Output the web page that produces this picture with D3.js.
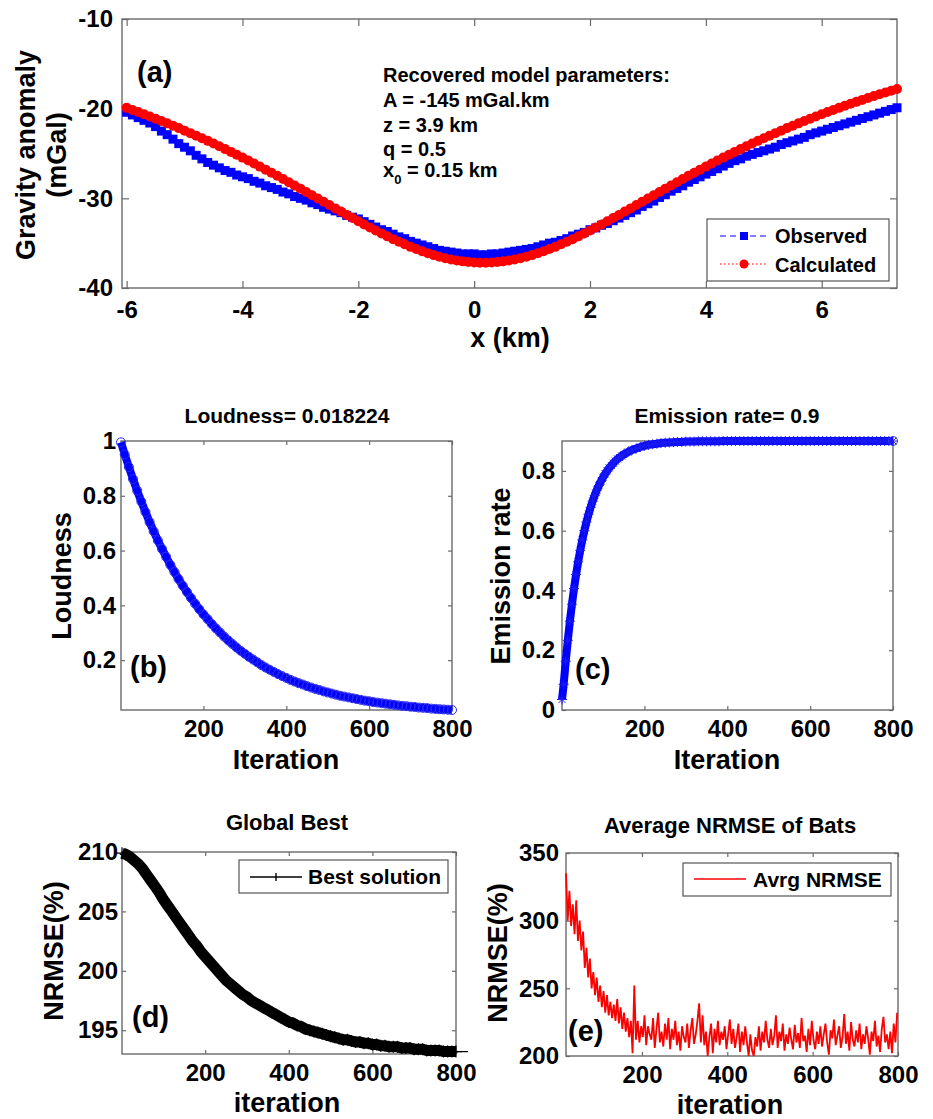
<!DOCTYPE html>
<html>
<head>
<meta charset="utf-8">
<script src="https://cdn.jsdelivr.net/npm/d3@7"></script>
<style>
body { margin: 0; background: #fff; }
svg text { font-family: "Liberation Sans", Arial, Helvetica, sans-serif; }
</style>
</head>
<body>
<div id="vis"></div>
<script>
// ---- data ----
var xKm = d3.range(-60, 74).map(function(i) { return i / 10; });   // -6.0 .. 7.3 km
var observed = [
  -20.4,-20.7,-21.0,-21.3,-21.6,-22.0,-22.5,-22.9,-23.4,-23.9,
  -24.3,-24.7,-25.2,-25.6,-26.0,-26.3,-26.6,-26.9,-27.1,-27.4,
  -27.6,-27.8,-28.1,-28.3,-28.6,-28.8,-29.0,-29.3,-29.5,-29.8,
  -30.0,-30.2,-30.5,-30.7,-31.0,-31.2,-31.4,-31.6,-31.9,-32.1,
  -32.3,-32.6,-32.9,-33.2,-33.5,-33.7,-34.0,-34.3,-34.5,-34.8,
  -35.0,-35.2,-35.4,-35.6,-35.8,-35.9,-36.0,-36.1,-36.2,-36.2,
  -36.2,-36.3,-36.3,-36.2,-36.2,-36.1,-36.0,-35.9,-35.8,-35.7,
  -35.6,-35.4,-35.2,-35.0,-34.9,-34.7,-34.5,-34.2,-34.0,-33.8,
  -33.5,-33.3,-33.0,-32.8,-32.5,-32.2,-31.9,-31.6,-31.3,-30.9,
  -30.6,-30.3,-29.9,-29.6,-29.2,-28.9,-28.6,-28.2,-27.9,-27.6,
  -27.3,-27.0,-26.7,-26.4,-26.1,-25.8,-25.6,-25.3,-25.1,-24.9,
  -24.7,-24.5,-24.3,-24.0,-23.8,-23.6,-23.4,-23.2,-22.9,-22.7,
  -22.5,-22.3,-22.1,-21.9,-21.7,-21.5,-21.3,-21.1,-20.9,-20.7,
  -20.5,-20.3,-20.1,-19.9
];
var calculated = [
  -19.91,-20.14,-20.38,-20.62,-20.87,-21.12,-21.38,-21.64,-21.90,-22.17,
  -22.45,-22.73,-23.01,-23.30,-23.59,-23.89,-24.20,-24.51,-24.82,-25.14,
  -25.46,-25.79,-26.12,-26.46,-26.80,-27.15,-27.49,-27.85,-28.20,-28.56,
  -28.92,-29.29,-29.65,-30.02,-30.39,-30.75,-31.12,-31.48,-31.85,-32.20,
  -32.56,-32.91,-33.25,-33.59,-33.92,-34.24,-34.55,-34.85,-35.13,-35.41,
  -35.66,-35.90,-36.12,-36.33,-36.51,-36.67,-36.82,-36.93,-37.03,-37.10,
  -37.15,-37.18,-37.18,-37.15,-37.10,-37.03,-36.93,-36.82,-36.67,-36.51,
  -36.33,-36.12,-35.90,-35.66,-35.41,-35.13,-34.85,-34.55,-34.24,-33.92,
  -33.59,-33.25,-32.91,-32.56,-32.20,-31.85,-31.48,-31.12,-30.75,-30.39,
  -30.02,-29.65,-29.29,-28.92,-28.56,-28.20,-27.85,-27.49,-27.15,-26.80,
  -26.46,-26.12,-25.79,-25.46,-25.14,-24.82,-24.51,-24.20,-23.89,-23.59,
  -23.30,-23.01,-22.73,-22.45,-22.17,-21.90,-21.64,-21.38,-21.12,-20.87,
  -20.62,-20.38,-20.14,-19.91,-19.68,-19.46,-19.24,-19.02,-18.81,-18.60,
  -18.40,-18.19,-18.00,-17.80
];
var params = ["Recovered model parameters:", "A = -145 mGal.km", "z = 3.9 km", "q = 0.5"];

var loudIter = [1].concat(d3.range(10, 801, 10));
var loudness = [
  0.995,
  0.951,0.905,0.861,0.819,0.779,0.741,0.704,0.670,0.637,0.606,
  0.577,0.548,0.522,0.496,0.472,0.449,0.427,0.406,0.386,0.367,
  0.350,0.332,0.316,0.301,0.286,0.272,0.259,0.246,0.234,0.223,
  0.212,0.202,0.192,0.182,0.173,0.165,0.157,0.149,0.142,0.135,
  0.128,0.122,0.116,0.111,0.105,0.100,0.095,0.091,0.086,0.082,
  0.078,0.074,0.070,0.067,0.064,0.061,0.058,0.055,0.052,0.050,
  0.047,0.045,0.043,0.041,0.039,0.037,0.035,0.033,0.032,0.030,
  0.029,0.027,0.026,0.025,0.023,0.022,0.021,0.020,0.019,0.018
];

var emisIter = [1].concat(d3.range(5, 151, 5), d3.range(160, 801, 10));
var emission = [
  0.035,
  0.086,0.163,0.233,0.297,0.354,0.406,0.453,0.496,0.534,0.569,
  0.600,0.629,0.655,0.678,0.699,0.718,0.736,0.751,0.765,0.778,
  0.790,0.800,0.810,0.818,0.826,0.833,0.840,0.845,0.850,0.855,
  0.863,0.870,0.875,0.880,0.884,0.887,0.889,0.891,0.893,0.894,
  0.895,0.896,0.897,0.897,0.898,0.898,0.898,0.899,0.899,0.899,
  0.899,0.899,0.899,0.9,0.9,0.9,0.9,0.9,0.9,0.9,
  0.9,0.9,0.9,0.9,0.9,0.9,0.9,0.9,0.9,0.9,
  0.9,0.9,0.9,0.9,0.9,0.9,0.9,0.9,0.9,0.9,
  0.9,0.9,0.9,0.9,0.9,0.9,0.9,0.9,0.9,0.9,
  0.9,0.9,0.9,0.9,0.9
];

var bestIter = [1].concat(d3.range(10, 801, 10));
var bestNrmse = [
  209.9,
  209.8,209.6,209.3,209.0,208.6,208.1,207.6,207.1,206.6,206.0,
  205.5,205.0,204.5,204.0,203.5,203.0,202.5,202.1,201.6,201.2,
  200.8,200.4,200.0,199.6,199.2,198.9,198.6,198.3,198.0,197.8,
  197.5,197.3,197.1,196.9,196.7,196.5,196.3,196.1,195.9,195.7,
  195.6,195.4,195.3,195.1,195.0,194.9,194.8,194.7,194.6,194.5,
  194.4,194.3,194.2,194.2,194.1,194.0,194.0,193.9,193.9,193.8,
  193.8,193.7,193.7,193.6,193.6,193.6,193.5,193.5,193.5,193.4,
  193.4,193.4,193.3,193.3,193.3,193.3,193.2,193.2,193.2,193.2
];

var avgIter = d3.range(22, 801, 4);
var avgNrmse = [
  335,300,322,296,312,290,315,285,300,278,
  292,265,280,258,272,250,262,245,258,240,
  252,236,248,232,245,230,240,228,238,226,
  242,224,236,220,232,218,228,214,226,202,
  252,212,226,210,222,214,230,208,222,216,
  212,228,206,220,232,210,218,207,224,212,
  228,205,220,212,226,208,218,204,222,214,
  210,224,206,219,228,209,216,226,239,210,
  230,208,218,200,214,224,202,220,210,226,
  208,218,212,222,205,216,227,209,220,206,
  214,224,203,218,208,222,210,200,216,204,
  200,214,207,222,204,218,210,226,212,206,
  220,208,215,230,206,218,211,224,204,216,
  209,221,212,205,223,210,217,206,228,211,
  215,203,220,208,226,212,205,218,209,222,
  207,216,224,210,201,219,213,227,208,215,
  222,206,214,231,209,218,204,225,212,207,
  219,210,224,205,216,209,222,213,201,218,
  211,226,207,215,203,220,229,210,216,205,
  218,202,224,210,232
];

// ---- drawing ----
var width = 933, height = 1119;
var axisGrey = '#6a6a6a';

var svg = d3.select('#vis')
  .append('svg')
  .attr('width', width)
  .attr('height', height);

svg.append('rect').attr('width', width).attr('height', height).attr('fill', '#fff');

var plain = function(d) { return String(d); };   // hyphen minus, like the original

// one MATLAB style box with inward ticks on all four sides
function panel(o) {
  var g = svg.append('g');
  var x = d3.scaleLinear().domain(o.xDomain).range([o.left, o.right]);
  var y = d3.scaleLinear().domain(o.yDomain).range([o.bottom, o.top]);

  g.append('g')
    .attr('transform', 'translate(0,' + o.bottom + ')')
    .call(d3.axisBottom(x).tickValues(o.xTicks).tickSize(-o.tick).tickPadding(o.xPad).tickFormat(plain));
  g.append('g')
    .attr('transform', 'translate(0,' + o.top + ')')
    .call(d3.axisTop(x).tickValues(o.xTicks).tickSize(-o.tick).tickFormat(''));
  g.append('g')
    .attr('transform', 'translate(' + o.left + ',0)')
    .call(d3.axisLeft(y).tickValues(o.yTicks).tickSize(-o.tick).tickPadding(o.yPad).tickFormat(plain));
  g.append('g')
    .attr('transform', 'translate(' + o.right + ',0)')
    .call(d3.axisRight(y).tickValues(o.yTicks).tickSize(-o.tick).tickFormat(''));

  g.selectAll('.domain').remove();
  g.selectAll('.tick line').attr('stroke', axisGrey).attr('stroke-width', 1.2);
  g.selectAll('.tick text')
    .attr('fill', '#000')
    .style('font-size', '24px')
    .style('font-weight', 'bold');

  g.append('rect')
    .attr('x', o.left).attr('y', o.top)
    .attr('width', o.right - o.left).attr('height', o.bottom - o.top)
    .attr('fill', 'none').attr('stroke', axisGrey).attr('stroke-width', 1.4);

  var marks = svg.append('g');
  return { g: g, marks: marks, x: x, y: y };
}

function label(txt, x, y, size, weight, anchor, rotate) {
  var t = svg.append('text')
    .attr('transform', 'translate(' + x + ',' + y + ')' + (rotate ? ' rotate(-90)' : ''))
    .attr('text-anchor', anchor || 'middle')
    .style('font-size', size + 'px')
    .style('font-weight', weight)
    .attr('fill', '#000')
    .text(txt);
  return t;
}

// ================= (a) =================
var pa = panel({ left: 122, right: 897, top: 19, bottom: 288,
  xDomain: [-6.08, 7.3], yDomain: [-40, -10],
  xTicks: [-6, -4, -2, 0, 2, 4, 6], yTicks: [-40, -30, -20, -10],
  tick: 7, xPad: 13, yPad: 9 });

var obsPts = xKm.map(function(d, i) { return [d, observed[i]]; });
var calPts = xKm.map(function(d, i) { return [d, calculated[i]]; });
var lineA = d3.line().x(function(d) { return pa.x(d[0]); }).y(function(d) { return pa.y(d[1]); });

pa.marks.append('path').attr('d', lineA(obsPts))
  .attr('fill', 'none').attr('stroke', '#0000ff').attr('stroke-width', 1).attr('stroke-dasharray', '6,4');
pa.marks.selectAll('.obs').data(obsPts).enter().append('rect')
  .attr('class', 'obs')
  .attr('x', function(d) { return pa.x(d[0]) - 4.5; })
  .attr('y', function(d) { return pa.y(d[1]) - 4.5; })
  .attr('width', 9).attr('height', 9)
  .attr('fill', '#0000ff');
pa.marks.append('path').attr('d', lineA(calPts))
  .attr('fill', 'none').attr('stroke', '#ff0000').attr('stroke-width', 1).attr('stroke-dasharray', '1.5,2.5');
pa.marks.selectAll('.cal').data(calPts).enter().append('circle')
  .attr('class', 'cal')
  .attr('cx', function(d) { return pa.x(d[0]); })
  .attr('cy', function(d) { return pa.y(d[1]); })
  .attr('r', 5)
  .attr('fill', '#ff0000');

label('(a)', 137, 82, 29, 'bold', 'start');
var paramY = [82, 107, 132, 156];
params.forEach(function(p, i) { label(p, 383, paramY[i], 20, 'bold', 'start'); });
var x0 = label('x', 383, 177, 20, 'bold', 'start');
x0.append('tspan').attr('dy', 7).style('font-size', '13px').text('0');
x0.append('tspan').attr('dy', -7).text(' = 0.15 km');

// legend (a)
var lgA = svg.append('g');
lgA.append('rect').attr('x', 707).attr('y', 219).attr('width', 182).attr('height', 62)
  .attr('fill', '#fff').attr('stroke', '#555').attr('stroke-width', 1.2);
lgA.append('line').attr('x1', 720).attr('x2', 768).attr('y1', 236).attr('y2', 236)
  .attr('stroke', '#0000ff').attr('stroke-width', 1.2).attr('stroke-dasharray', '6,4');
lgA.append('rect').attr('x', 740).attr('y', 232).attr('width', 8).attr('height', 8).attr('fill', '#0000ff');
lgA.append('line').attr('x1', 720).attr('x2', 768).attr('y1', 264).attr('y2', 264)
  .attr('stroke', '#ff0000').attr('stroke-width', 1.2).attr('stroke-dasharray', '1.5,2.5');
lgA.append('circle').attr('cx', 744).attr('cy', 264).attr('r', 4.5).attr('fill', '#ff0000');
label('Observed', 775, 243, 20, 'bold', 'start');
label('Calculated', 775, 272, 20, 'bold', 'start');

label('Gravity anomaly', 35, 155, 27, 'bold', 'middle', true);
label('(mGal)', 66, 155, 27, 'bold', 'middle', true);
label('x (km)', 510, 347, 27, 'bold', 'middle');

// ================= (b) =================
var pb = panel({ left: 121, right: 452, top: 441, bottom: 710,
  xDomain: [1, 800], yDomain: [0.018, 1],
  xTicks: [200, 400, 600, 800], yTicks: [0.2, 0.4, 0.6, 0.8, 1],
  tick: 4, xPad: 10, yPad: 5 });
var loudPts = loudIter.map(function(d, i) { return [d, loudness[i]]; });
var lineB = d3.line().x(function(d) { return pb.x(d[0]); }).y(function(d) { return pb.y(d[1]); });
pb.marks.append('path').attr('d', lineB(loudPts))
  .attr('fill', 'none').attr('stroke', '#0000ff').attr('stroke-width', 8);
pb.marks.selectAll('circle').data(loudPts).enter().append('circle')
  .attr('cx', function(d) { return pb.x(d[0]); })
  .attr('cy', function(d) { return pb.y(d[1]); })
  .attr('r', 4.5)
  .attr('fill', 'none').attr('stroke', '#2a2af0').attr('stroke-width', 1);

label('Loudness= 0.018224', 287, 423, 21, 'bold', 'middle');
label('Loudness', 71, 576, 27, 'bold', 'middle', true);
label('Iteration', 286, 769, 27, 'bold', 'middle');
label('(b)', 130, 677, 29, 'bold', 'start');

// ================= (c) =================
var pc = panel({ left: 562, right: 893, top: 441, bottom: 710,
  xDomain: [1, 800], yDomain: [0, 0.9],
  xTicks: [200, 400, 600, 800], yTicks: [0, 0.2, 0.4, 0.6, 0.8],
  tick: 4, xPad: 10, yPad: 7 });
var emisPts = emisIter.map(function(d, i) { return [d, emission[i]]; });
var lineC = d3.line().x(function(d) { return pc.x(d[0]); }).y(function(d) { return pc.y(d[1]); });
pc.marks.append('path').attr('d', lineC(emisPts))
  .attr('fill', 'none').attr('stroke', '#0000ff').attr('stroke-width', 8);
var star = 'M-5,0L5,0M0,-5L0,5M-3.5,-3.5L3.5,3.5M-3.5,3.5L3.5,-3.5';
pc.marks.selectAll('.star').data(emisPts).enter().append('path')
  .attr('class', 'star')
  .attr('transform', function(d) { return 'translate(' + pc.x(d[0]) + ',' + pc.y(d[1]) + ')'; })
  .attr('d', star)
  .attr('fill', 'none').attr('stroke', '#1c1cf0').attr('stroke-width', 1);
var lastC = emisPts[emisPts.length - 1];
pc.marks.append('circle').attr('cx', pc.x(lastC[0])).attr('cy', pc.y(lastC[1])).attr('r', 4.5)
  .attr('fill', 'none').attr('stroke', '#3a3aff').attr('stroke-width', 1);

label('Emission rate= 0.9', 727, 423, 21, 'bold', 'middle');
label('Emission rate', 510, 576, 27, 'bold', 'middle', true);
label('Iteration', 727, 769, 27, 'bold', 'middle');
label('(c)', 575, 679, 29, 'bold', 'start');

// ================= (d) =================
var pd = panel({ left: 122, right: 456, top: 852, bottom: 1054,
  xDomain: [1, 800], yDomain: [193, 210],
  xTicks: [200, 400, 600, 800], yTicks: [195, 200, 205, 210],
  tick: 4, xPad: 10, yPad: 4 });
var bestPts = bestIter.map(function(d, i) { return [d, bestNrmse[i]]; });
var lineD = d3.line().x(function(d) { return pd.x(d[0]); }).y(function(d) { return pd.y(d[1]); });
pd.marks.append('path').attr('d', lineD(bestPts))
  .attr('fill', 'none').attr('stroke', '#000').attr('stroke-width', 11);
pd.marks.selectAll('.plus').data(bestPts).enter().append('path')
  .attr('class', 'plus')
  .attr('transform', function(d) { return 'translate(' + pd.x(d[0]) + ',' + pd.y(d[1]) + ')'; })
  .attr('d', 'M-6,0L6,0M0,-6L0,6')
  .attr('stroke', '#000').attr('stroke-width', 1.2);
var lastD = bestPts[bestPts.length - 1];
pd.marks.append('line')
  .attr('x1', pd.x(lastD[0]) - 8).attr('x2', pd.x(lastD[0]) + 12)
  .attr('y1', pd.y(lastD[1])).attr('y2', pd.y(lastD[1]))
  .attr('stroke', '#000').attr('stroke-width', 1.2);

var lgD = svg.append('g');
lgD.append('rect').attr('x', 239).attr('y', 860).attr('width', 209).attr('height', 33)
  .attr('fill', '#fff').attr('stroke', '#555').attr('stroke-width', 1.2);
lgD.append('line').attr('x1', 250).attr('x2', 302).attr('y1', 877).attr('y2', 877)
  .attr('stroke', '#000').attr('stroke-width', 1.4);
lgD.append('line').attr('x1', 276).attr('x2', 276).attr('y1', 873).attr('y2', 881)
  .attr('stroke', '#000').attr('stroke-width', 1.4);
label('Best solution', 308, 884, 21, 'bold', 'start');

label('Global Best', 287, 830, 22, 'bold', 'middle');
label('NRMSE(%)', 63, 951, 27, 'bold', 'middle', true);
label('iteration', 287, 1112, 27, 'bold', 'middle');
label('(d)', 132, 1027, 29, 'bold', 'start');

// ================= (e) =================
var pe = panel({ left: 566, right: 898, top: 853, bottom: 1056,
  xDomain: [22, 800], yDomain: [200, 350],
  xTicks: [200, 400, 600, 800], yTicks: [200, 250, 300, 350],
  tick: 4, xPad: 10, yPad: 7 });
var avgPts = avgIter.map(function(d, i) { return [d, avgNrmse[i]]; });
var lineE = d3.line().x(function(d) { return pe.x(d[0]); }).y(function(d) { return pe.y(d[1]); });
pe.marks.append('path').attr('d', lineE(avgPts))
  .attr('fill', 'none').attr('stroke', '#ff0000').attr('stroke-width', 1.8);

var lgE = svg.append('g');
lgE.append('rect').attr('x', 683).attr('y', 863).attr('width', 208).attr('height', 33)
  .attr('fill', '#fff').attr('stroke', '#555').attr('stroke-width', 1.2);
lgE.append('line').attr('x1', 694).attr('x2', 746).attr('y1', 879).attr('y2', 879)
  .attr('stroke', '#ff0000').attr('stroke-width', 1.6);
label('Avrg NRMSE', 753, 887, 21, 'bold', 'start');

label('Average NRMSE of Bats', 730, 833, 22, 'bold', 'middle');
label('NRMSE(%)', 507, 953, 27, 'bold', 'middle', true);
label('iteration', 730, 1114, 27, 'bold', 'middle');
label('(e)', 568, 1041, 29, 'bold', 'start');
</script>
</body>
</html>
